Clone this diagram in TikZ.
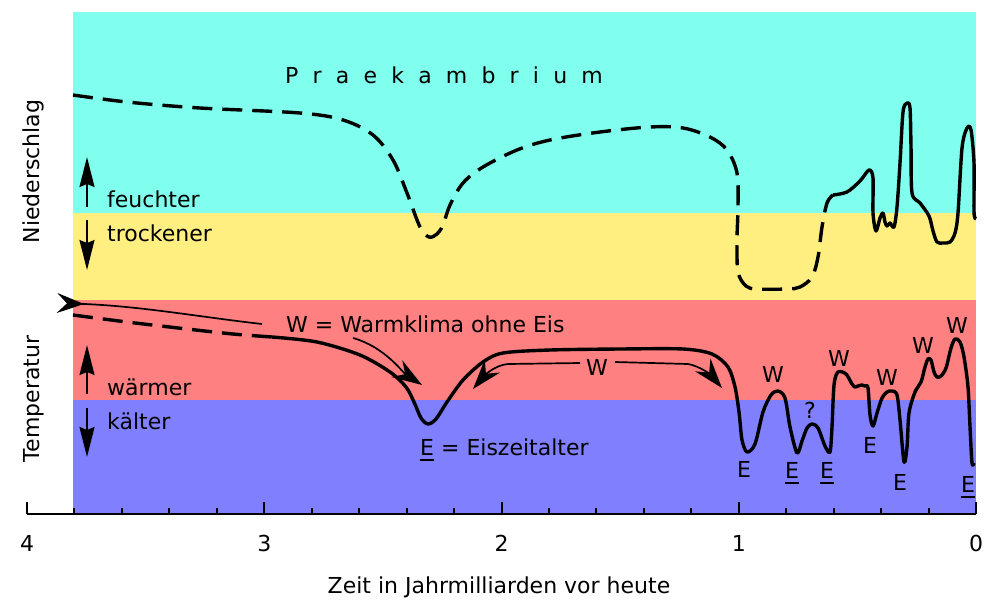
\documentclass[tikz,border=0pt]{standalone}
\usepackage{fontspec}
\setmainfont{DejaVu Sans}
\usetikzlibrary{arrows.meta}
\definecolor{cyanband}{HTML}{80FFEE}
\definecolor{yellowband}{HTML}{FFEE80}
\definecolor{redband}{HTML}{FF8080}
\definecolor{blueband}{HTML}{8080FF}
\newlength\uEwd
\newcommand{\uE}{\settowidth{\uEwd}{E}\rlap{\rule[-6pt]{\uEwd}{1.8pt}}E}
\newcommand{\lsp}{\hspace{14.2pt}}
\begin{document}
\begin{tikzpicture}[x=1pt,y=-1pt,
  every node/.style={font=\fontsize{22}{26}\selectfont, inner sep=0pt},
  lbl/.style={anchor=base},
  lblw/.style={anchor=base west},
  thickcurve/.style={line width=3.4pt, line join=round, line cap=butt},
  dashcurve/.style={thickcurve, dash pattern=on 20pt off 10pt},
  thinline/.style={line width=1.7pt},
  axisline/.style={line width=2pt}]
\useasboundingbox (0,0) rectangle (1000,608);
% bands
\fill[cyanband] (73,12) rectangle (976,213);
\fill[yellowband] (73,213) rectangle (976,300);
\fill[redband] (73,300) rectangle (976,400);
\fill[blueband] (73,400) rectangle (976,514);
% axis
\draw[axisline] (27,514) -- (976,514);
\foreach \t in {0,1,2,3,4} \draw[axisline] ({976-237.25*\t},514) -- ({976-237.25*\t},502);
\foreach \t in {0.2,0.4,0.6,0.8,1.2,1.4,1.6,1.8,2.2,2.4,2.6,2.8,3.2,3.4,3.6,3.8}
  \draw[axisline] ({976-237.25*\t},514) -- ({976-237.25*\t},508);
\foreach \t in {0,1,2,3,4} \node[lbl] (n\t) at ({976-237.25*\t},551) {\t};
\node[lbl] (xlab) at (499,593) {Zeit in Jahrmilliarden vor heute};
% axis titles
\node[lbl, rotate=90] (nied) at (39,171.5) {Niederschlag};
\node[lbl, rotate=90] (temp) at (39,399) {Temperatur};
% band labels
\node[lblw] (feu) at (107,207) {feuchter};
\node[lblw] (tro) at (107,241) {trockener};
\node[lblw] (waer) at (107,395) {wärmer};
\node[lblw] (kae) at (107,429) {kälter};
\coordinate (a1s) at (87,207); \coordinate (a1e) at (87,157);
\coordinate (a2s) at (87,220); \coordinate (a2e) at (87,270);
\coordinate (a3s) at (87,394); \coordinate (a3e) at (87,345);
\coordinate (a4s) at (87,408); \coordinate (a4e) at (87,457);
\draw[thinline, -{Stealth[length=30pt, width=15pt, inset=3pt]}] (a1s) -- (a1e);
\draw[thinline, -{Stealth[length=30pt, width=15pt, inset=3pt]}] (a2s) -- (a2e);
\draw[thinline, -{Stealth[length=30pt, width=15pt, inset=3pt]}] (a3s) -- (a3e);
\draw[thinline, -{Stealth[length=30pt, width=15pt, inset=3pt]}] (a4s) -- (a4e);
% Praekambrium
\node[lblw] (prae) at (285,83) {P\lsp r\lsp a\lsp e\lsp k\lsp a\lsp m\lsp b\lsp r\lsp i\lsp u\lsp m};
% precipitation curve
\draw[dashcurve] plot[smooth, tension=0.55] coordinates {
 (73,95) (127,102) (200,108) (300,113) (343,120) (373,135) (393,160) (407,193)
 (420,227) (429,237) (437,234) (443,225) (450,205) (463,183) (483,167) (517,150)
 (550,140) (600,132) (650,127) (683,128) (710,137) (727,150) (737,173) (738,207)
 (737,240) (738,272) (746,286) (757,289) (787,289) (800,287) (812,277) (818,257)
 (822,227) (827,203) (833,195)};
\draw[thickcurve] plot[smooth, tension=0.5] coordinates {
 (833,195) (847,192) (860,181) (869,170) (873,178) (873,213) (876,231) (880,218)
 (883,213) (885,222) (887,226) (890,223) (894,227) (897,207) (900,163) (903,112)
 (907,103) (910,108) (911,147) (912,193) (920,203) (929,216) (933,231) (937,242)
 (943,243) (950,242) (955,233) (958,213) (962,148) (967,128) (971,130) (974,163)
 (974,212) (976,219)};
% temperature curve
\draw[dashcurve] plot[smooth, tension=0.5] coordinates {
 (73,315) (127,322) (187,329) (233,334) (272,337)};
\draw[thickcurve] plot[smooth, tension=0.5] coordinates {
 (272,337) (317,342) (360,355) (390,372) (406,387) (414,402) (421,418) (428,424)
 (436,419) (447,402) (463,380) (483,362) (503,353) (550,350) (620,349) (683,349)
 (712,354) (728,367) (735,387) (739,412) (742,440) (747,452) (755,444) (763,412)
 (771,395) (778,391) (785,398) (790,427) (797,453) (802,441) (807,428) (812,424)
 (818,428) (825,446) (830,452) (832,427) (834,385) (838,372) (846,374) (852,384)
 (855,387) (858,386) (862,385) (865,386) (868,388) (870,415) (873,426) (877,413)
 (882,398) (887,392) (892,391) (897,395) (900,420) (904,462) (907,447) (909,413)
 (915,392) (921,382) (925,367) (928,359) (931,360) (934,372) (937,377) (941,376)
 (946,368) (951,348) (955,339) (960,342) (964,357) (968,387) (970,427) (972,463)
 (974,463)};
% labels W / E
\node[lblw] (wlab) at (286,332) {W = Warmklima ohne Eis};
\node[lblw] (elab) at (420,455) {\uE\ = Eiszeitalter};
\node[lbl] (wmid) at (597,375) {W};
\node[lbl] (e1) at (744,477) {E};
\node[lbl] (w1) at (773,382) {W};
\node[lbl] (e2) at (792,478) {\uE};
\node[lbl] (q) at (810,418) {?};
\node[lbl] (e3) at (827,478) {\uE};
\node[lbl] (w2) at (839,366) {W};
\node[lbl] (e4) at (870,453) {E};
\node[lbl] (w3) at (887,385) {W};
\node[lbl] (e5) at (900,490) {E};
\node[lbl] (w4) at (923,353) {W};
\node[lbl] (w5) at (957,333) {W};
\node[lbl] (e6) at (968,492) {\uE};
% pointer arrows
\coordinate (p1a) at (57,303); \coordinate (p1b) at (262,324);
\draw[thinline, {Stealth[reversed, length=27pt, width=20pt, inset=10pt]}-] (p1a) .. controls (140,306) and (200,317) .. (p1b);
\coordinate (p2a) at (353,338); \coordinate (p2b) at (422,385);
\draw[thinline, -{Stealth[length=30pt, width=20pt, inset=10pt]}] (p2a) .. controls (385,347) and (402,372) .. (p2b);
\coordinate (p3a) at (580,363); \coordinate (p3m) at (508,364); \coordinate (p3b) at (473,389);
\draw[thinline, -{Stealth[length=30pt, width=20pt, inset=10pt]}] (p3a) -- (p3m) .. controls (495,365) and (484,376) .. (p3b);
\coordinate (p4a) at (615,362); \coordinate (p4m) at (688,364); \coordinate (p4b) at (722,388);
\draw[thinline, -{Stealth[length=30pt, width=20pt, inset=10pt]}] (p4a) -- (p4m) .. controls (700,366) and (712,376) .. (p4b);
\end{tikzpicture}
\end{document}
